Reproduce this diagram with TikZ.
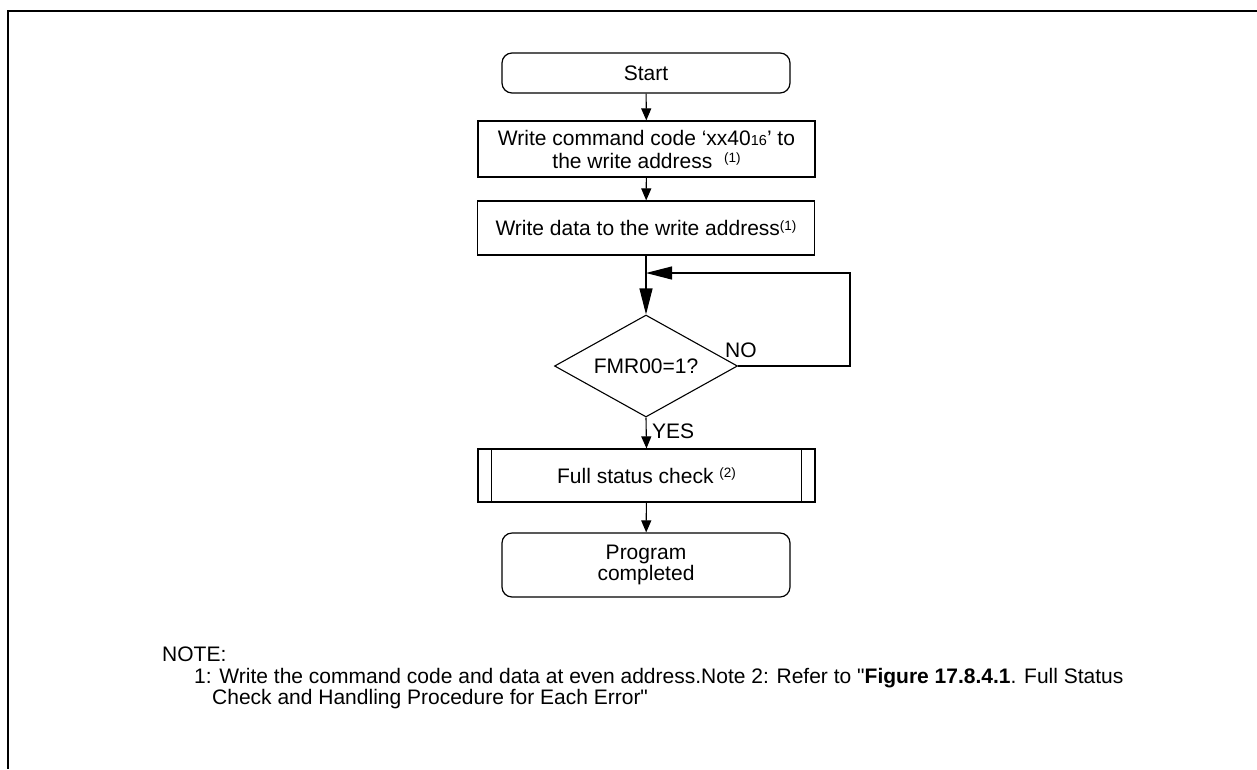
\documentclass[tikz,border=0pt]{standalone}
\usepackage{fontspec}
\setmainfont{Liberation Sans}[Ligatures=TeXOff]
\usetikzlibrary{shapes.geometric,arrows.meta}
\newcommand\supn[1]{\raisebox{0.5ex}{\fontsize{13.5}{13.5}\selectfont(#1)}}
\newcommand\smalln[1]{{\fontsize{14.5}{14.5}\selectfont #1}}
\begin{document}
\begin{tikzpicture}[x=1pt,y=-1pt,
  every node/.style={font=\fontsize{21}{23}\selectfont},
  box/.style={draw,line width=1.2pt,minimum width=337pt,inner sep=0pt,align=center},
  term/.style={draw,line width=1.2pt,rounded corners=10pt,minimum width=288pt,inner sep=0pt,align=center},
  dia/.style={draw,line width=1.1pt,diamond,aspect=1.8,minimum width=183pt,minimum height=102pt,inner sep=0pt},
  arr/.style={line width=1.1pt,-{Triangle[length=12pt,width=10pt]}},
  bigarr/.style={line width=1.1pt,-{Triangle[length=26pt,width=13pt]}},
  lbl/.style={inner sep=0pt,anchor=base west}
]
\useasboundingbox (0,0) rectangle (1257,769);
\draw[line width=2.2pt] (7,11) -- (1257,11);
\draw[line width=2.2pt] (8,11) -- (8,769);

\node[term,minimum height=40pt] (start) at (646,73) {Start};
\node[box,minimum height=56pt] (b1) at (646.5,149) {Write command code ‘xx40\smalln{16}’ to\\the write address\ \ \supn{1}};
\node[box,minimum height=54pt] (b2) at (646,228) {Write data to the write address\supn{1}};
\node[dia] (d) at (646,366) {FMR00=1?};
\node[box,minimum height=53pt] (fsc) at (646.5,475.5) {Full status check \supn{2}};
\draw[line width=1.1pt] ([xshift=14pt]fsc.north west) -- ([xshift=14pt]fsc.south west);
\draw[line width=1.1pt] ([xshift=-14pt]fsc.north east) -- ([xshift=-14pt]fsc.south east);
\node[term,minimum height=64pt,font=\fontsize{21}{21}\selectfont] (end) at (646,565) {Program\\completed};

\coordinate (join) at (646,273);
\coordinate (loopr) at (850,366);

\draw[arr] (start) -- (b1);
\draw[arr] (b1) -- (b2);
\draw[line width=1.1pt] (b2.south) -- (join);
\draw[bigarr] (join) -- (d.north);
\draw[bigarr] (d.east) -- (loopr) |- (join);
\draw[arr] (d.south) -- (fsc.north);
\draw[arr] (fsc) -- (end);

\node[lbl] (no) at (725,357) {NO};
\node[lbl] (yes) at (652,438) {YES};

\node[lbl] (note) at (162,661) {NOTE:};
\node[lbl] (n1) at (194,683) {1: Write the command code and data at even address.Note 2: Refer to "\textbf{Figure 17.8.4.1}. Full Status};
\node[lbl] (n2) at (212,704) {Check and Handling Procedure for Each Error"};
\end{tikzpicture}
\end{document}
